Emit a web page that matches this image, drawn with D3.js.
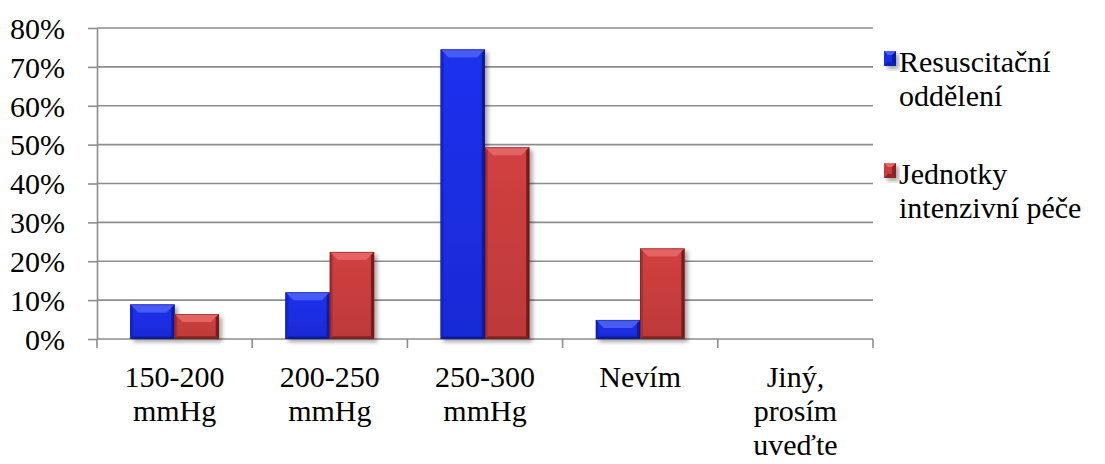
<!DOCTYPE html>
<html>
<head>
<meta charset="utf-8">
<script src="https://cdn.jsdelivr.net/npm/d3@7"></script>
<style>
  @font-face { font-family: "ChartSerif"; src: local("Liberation Serif"), local("LiberationSerif"), local("Tinos"), local("FreeSerif"); }
</style>
</head>
<body style="margin:0; background:#fff">
<svg id="chart" width="1105" height="464" style="display:block"></svg>
<script>
// Categories (x axis) and their wrapped label lines
const categories = ["150-200 mmHg", "200-250 mmHg", "250-300 mmHg", "Nevím", "Jiný, prosím uveďte"];
const categoryLines = [["150-200", "mmHg"], ["200-250", "mmHg"], ["250-300", "mmHg"], ["Nevím"], ["Jiný,", "prosím", "uveďte"]];

// Series names (legend, wrapped) and values in percent
const seriesNames = ["Resuscitační oddělení", "Jednotky intenzivní péče"];
const seriesLines = [["Resuscitační", "oddělení"], ["Jednotky", "intenzivní péče"]];
const resuscitacni = [8.9, 12.0, 74.5, 4.9, 0];
const jip = [6.4, 22.4, 49.3, 23.3, 0];

// Y axis ticks
const yTicks = [0, 10, 20, 30, 40, 50, 60, 70, 80];

const seriesValues = [resuscitacni, jip];
const palette = [
  { base: "#1b2ee4", light: "#4d60f4", dark: "#0c178f", side: "#1525c4" },
  { base: "#c93d3d", light: "#e56767", dark: "#6d1616", side: "#a83030" }
];

const svg = d3.select("#chart");
const plotLeft = 97, plotRight = 873, plotTop = 28, plotBottom = 339;
const fontSize = 30;
const serifFamily = `"Liberation Serif", "Tinos", "FreeSerif", "ChartSerif", "DejaVu Serif"`;

const x = d3.scaleBand().domain(categories).range([plotLeft, plotRight]).paddingInner(0).paddingOuter(0);
const xs = d3.scaleBand().domain(seriesNames).range([0, x.bandwidth()]).paddingInner(0).paddingOuter(0.75);
const y = d3.scaleLinear().domain([0, 80]).range([plotBottom, plotTop]);

const defs = svg.append("defs");
const shadow = defs.append("filter").attr("id", "barShadow")
  .attr("x", "-20%").attr("y", "-20%").attr("width", "150%").attr("height", "150%");
shadow.append("feGaussianBlur").attr("in", "SourceAlpha").attr("stdDeviation", 2.2).attr("result", "blur");
shadow.append("feOffset").attr("in", "blur").attr("dx", 2.5).attr("dy", 2.5).attr("result", "off");
shadow.append("feComponentTransfer").attr("in", "off").attr("result", "shade")
  .append("feFuncA").attr("type", "linear").attr("slope", 0.35);
const merge = shadow.append("feMerge");
merge.append("feMergeNode").attr("in", "shade");
merge.append("feMergeNode").attr("in", "SourceGraphic");

// body gradients per series
palette.forEach((p, i) => {
  const g = defs.append("linearGradient").attr("id", "body" + i)
    .attr("x1", 0).attr("y1", 0).attr("x2", 0).attr("y2", 1);
  const c = d3.color(p.base);
  g.append("stop").attr("offset", 0).attr("stop-color", c.brighter(0.12));
  g.append("stop").attr("offset", 1).attr("stop-color", c.darker(0.18));
});

// Gridlines
const gridColor = "#8d8d8d";
svg.append("g").selectAll("line").data(yTicks.filter(d => d > 0)).join("line")
  .attr("x1", plotLeft).attr("x2", plotRight)
  .attr("y1", d => y(d)).attr("y2", d => y(d))
  .attr("stroke", gridColor).attr("stroke-width", 1.6);

// Y axis: line and ticks from d3.axisLeft, labels as plain text
const yAxis = svg.append("g").attr("transform", `translate(${plotLeft},0)`)
  .call(d3.axisLeft(y).tickValues(yTicks).tickFormat("").tickSize(9).tickSizeOuter(0));
yAxis.select(".domain").attr("stroke", gridColor).attr("stroke-width", 1.6);
yAxis.selectAll(".tick line").attr("stroke", gridColor).attr("stroke-width", 1.6);
yAxis.selectAll(".tick text").remove();
svg.selectAll("text.ylab").data(yTicks).join("text").attr("class", "ylab")
  .attr("x", plotLeft - 32).attr("y", d => y(d)).attr("dy", "0.36em")
  .attr("text-anchor", "end").attr("fill", "#000")
  .attr("font-size", fontSize)
  .attr("font-family", serifFamily)
  .style("font-family", serifFamily)
  .text(d => d + "%");

// X axis
const xAxis = svg.append("g").attr("transform", `translate(0,${plotBottom})`);
xAxis.append("line").attr("x1", plotLeft).attr("x2", plotRight).attr("y1", 0).attr("y2", 0)
  .attr("stroke", gridColor).attr("stroke-width", 1.6);
const bounds = categories.map(c => x(c)).concat([plotRight]);
xAxis.selectAll("line.tk").data(bounds).join("line").attr("class", "tk")
  .attr("x1", d => d).attr("x2", d => d).attr("y1", 0).attr("y2", 9)
  .attr("stroke", gridColor).attr("stroke-width", 1.6);
categories.forEach((c, ci) => {
  categoryLines[ci].forEach((line, li) => {
    svg.append("text")
      .attr("x", x(c) + x.bandwidth() / 2).attr("y", plotBottom + 48 + li * 34)
      .attr("text-anchor", "middle").attr("fill", "#000")
      .attr("font-size", fontSize)
      .attr("font-family", serifFamily)
      .style("font-family", serifFamily)
      .text(line);
  });
});

// Bars with bevelled edges
const barsG = svg.append("g");
seriesNames.forEach((s, si) => {
  const p = palette[si];
  seriesValues[si].forEach((v, ci) => {
    if (v <= 0) return;
    const x0 = x(categories[ci]) + xs(s), w = xs.bandwidth();
    const y0 = y(v), h = y(0) - y(v), x1 = x0 + w, y1 = y0 + h;
    const b = Math.min(8, h / 2, w / 2);
    const g = barsG.append("g").attr("filter", "url(#barShadow)");
    g.append("rect").attr("x", x0).attr("y", y0).attr("width", w).attr("height", h).attr("fill", `url(#body${si})`);
    // top bevel
    g.append("polygon").attr("points", [[x0, y0], [x1, y0], [x1 - b, y0 + b], [x0 + b, y0 + b]].join(" "))
      .attr("fill", p.light).attr("opacity", 0.9);
    // left bevel
    g.append("polygon").attr("points", [[x0, y0], [x0 + b * 0.35, y0 + b * 0.35], [x0 + b * 0.35, y1 - b * 0.35], [x0, y1]].join(" "))
      .attr("fill", p.side);
    // right bevel
    g.append("polygon").attr("points", [[x1, y0], [x1 - b * 0.4, y0 + b * 0.4], [x1 - b * 0.4, y1 - b * 0.4], [x1, y1]].join(" "))
      .attr("fill", p.dark).attr("opacity", 0.85);
    // bottom bevel
    g.append("polygon").attr("points", [[x0, y1], [x1, y1], [x1 - b * 0.35, y1 - b * 0.35], [x0 + b * 0.35, y1 - b * 0.35]].join(" "))
      .attr("fill", p.dark).attr("opacity", 0.7);
    g.append("rect").attr("x", x0 + 0.4).attr("y", y0 + 0.4).attr("width", w - 0.8).attr("height", h - 0.8)
      .attr("fill", "none").attr("stroke", p.dark).attr("stroke-width", 0.8).attr("opacity", 0.6);
  });
});

// Legend
const legendY = [[51, 72], [163, 184]];
seriesNames.forEach((s, si) => {
  const p = palette[si];
  const my = legendY[si][0];
  const g = svg.append("g").attr("filter", "url(#barShadow)");
  const lx0 = 884, lw = 12, lh = 15, lx1 = lx0 + lw, ly1 = my + lh, bb = 4;
  g.append("rect").attr("x", lx0).attr("y", my).attr("width", lw).attr("height", lh).attr("fill", p.base);
  g.append("polygon").attr("points", [[lx0, my], [lx1, my], [lx1 - bb, my + bb], [lx0 + bb, my + bb]].join(" ")).attr("fill", p.light);
  g.append("polygon").attr("points", [[lx1, my], [lx1 - bb, my + bb], [lx1 - bb, ly1 - bb], [lx1, ly1]].join(" ")).attr("fill", p.dark).attr("opacity", 0.7);
  g.append("polygon").attr("points", [[lx0, ly1], [lx1, ly1], [lx1 - bb, ly1 - bb], [lx0 + bb, ly1 - bb]].join(" ")).attr("fill", p.dark).attr("opacity", 0.6);
  seriesLines[si].forEach((line, li) => {
    svg.append("text")
      .attr("x", 899).attr("y", legendY[si][1] + li * 33.7)
      .attr("fill", "#000")
      .attr("font-size", fontSize)
      .attr("font-family", serifFamily)
      .style("font-family", serifFamily)
      .text(line);
  });
});
</script>
</body>
</html>
